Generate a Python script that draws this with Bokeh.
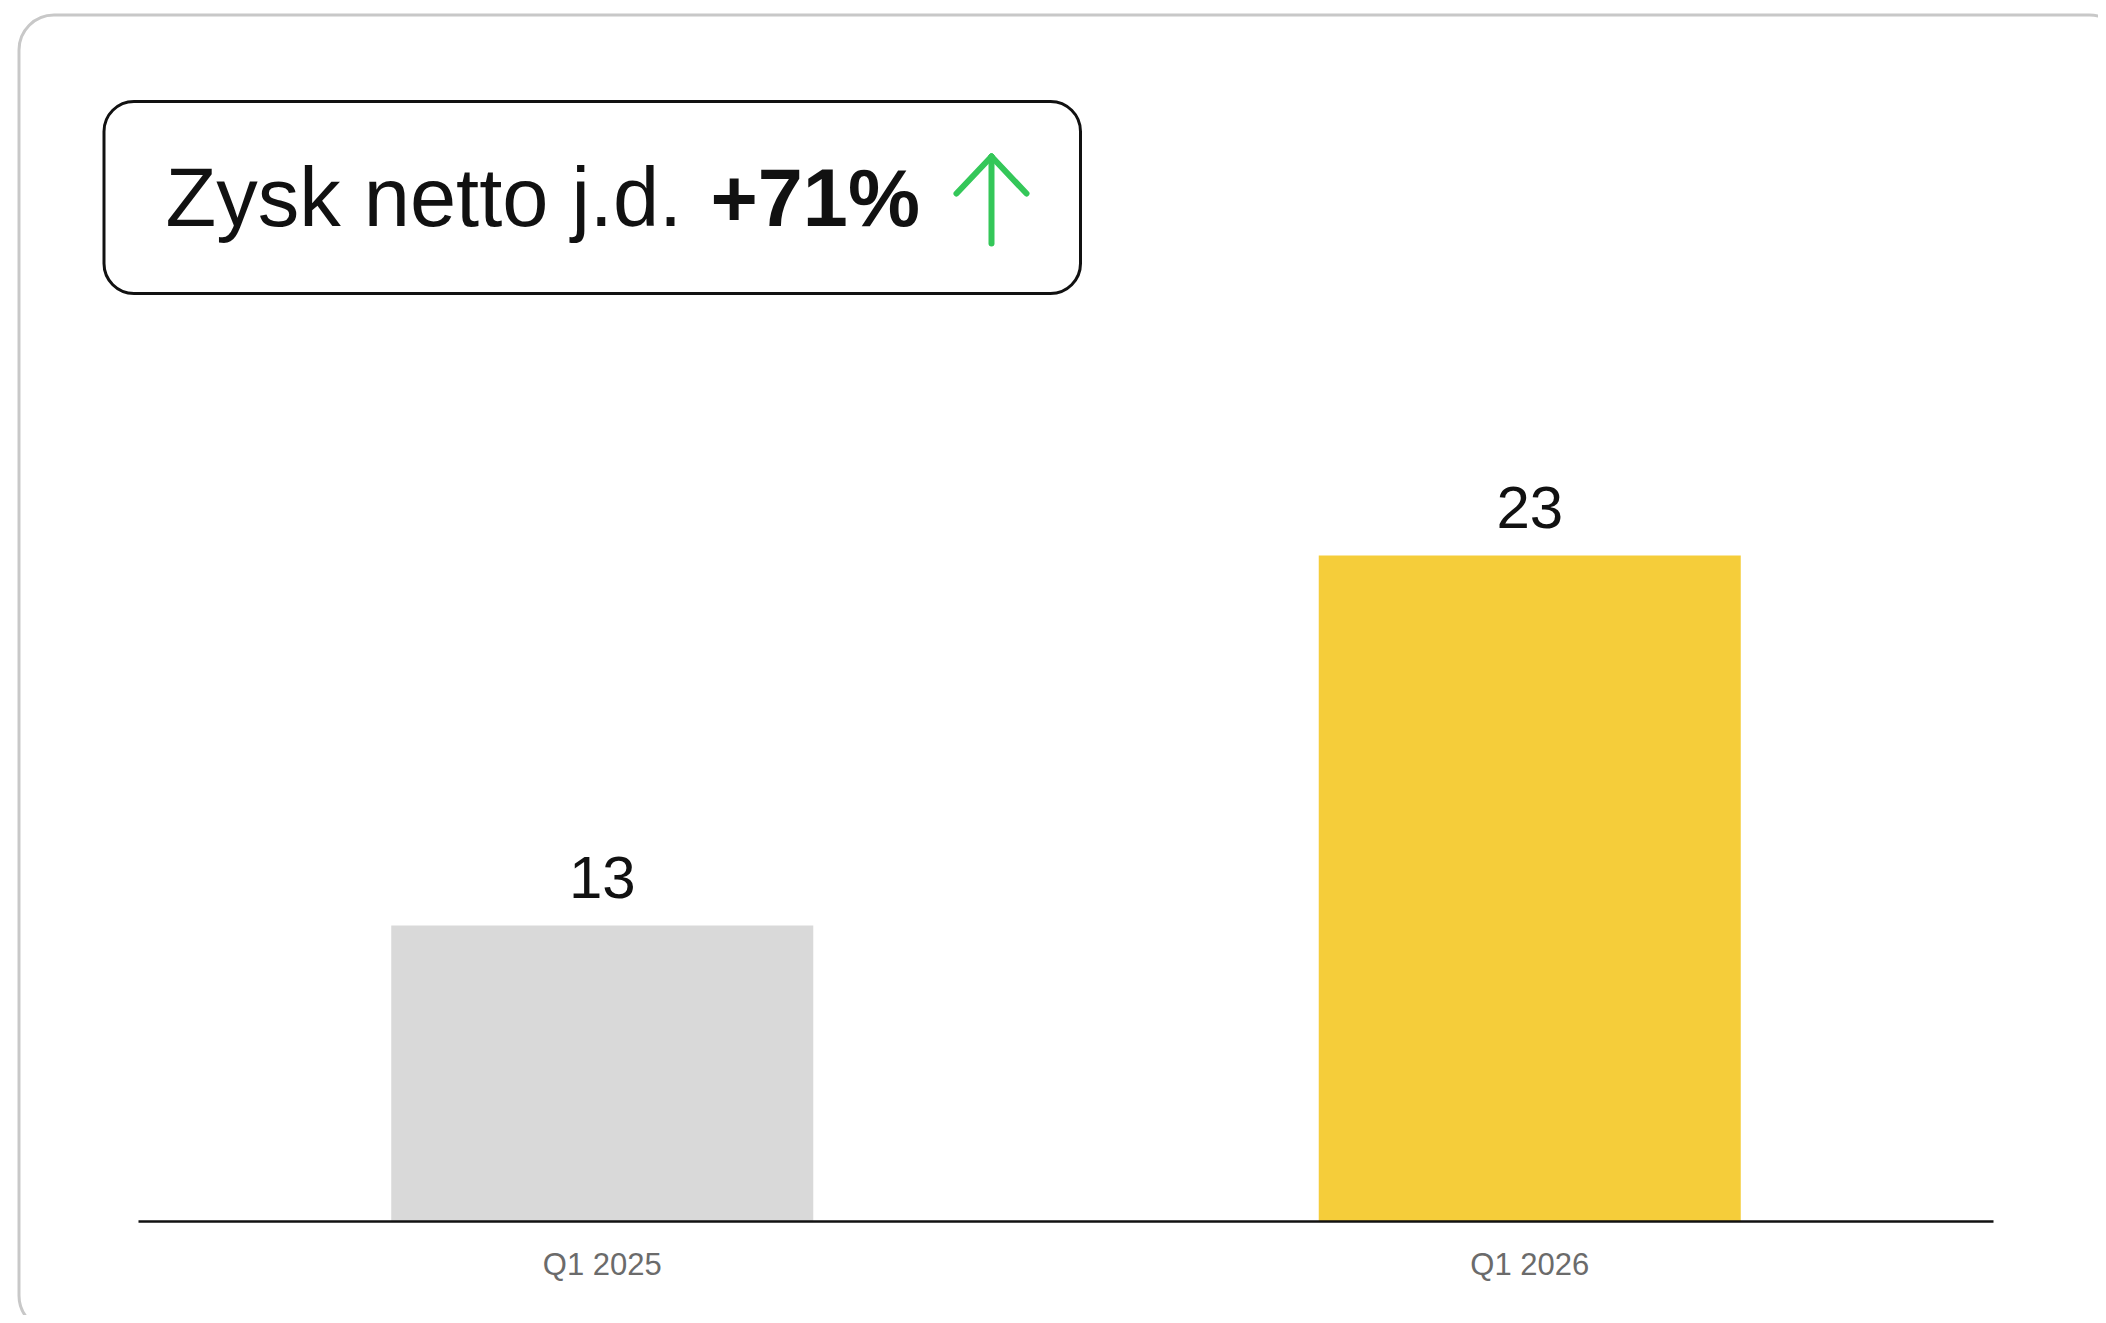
from bokeh.plotting import figure
from bokeh.models import Range1d, BoxAnnotation, Label, Arrow, ColumnDataSource, FixedTicker
from bokeh.core.properties import value
from bokeh.embed import file_html
from bokeh.resources import INLINE

# ---- data ----
categories = ["Q1 2025", "Q1 2026"]
values = [13, 23]
value_labels = ["13", "23"]
bar_colors = ["#d9d9d9", "#f5cd3a"]
headline_text = "Zysk netto j.d."
change_text = "+71%"
axis_start = 5  # value axis does not start at zero in the original

FONT = "Liberation Sans"
W, H = 2098, 1315

# ---- layout constants (pixels) ----
PLOT_LEFT, PLOT_RIGHT = 138, 1993      # extent of the category zone
BASELINE = 1221                        # pixel row of the x axis line
PX_PER_UNIT = 37.0
cat_px = (PLOT_RIGHT - PLOT_LEFT) / len(categories)

xpos = [i + 0.5 for i in range(len(categories))]
src = ColumnDataSource(dict(x=xpos, val=values, label=value_labels, color=bar_colors))

x_range = Range1d(-PLOT_LEFT / cat_px, (W - PLOT_LEFT) / cat_px)
y_range = Range1d(axis_start - (H - BASELINE) / PX_PER_UNIT, axis_start + BASELINE / PX_PER_UNIT)

p = figure(
    width=W, height=H, x_range=x_range, y_range=y_range,
    output_backend="svg", toolbar_location=None,
    y_axis_location=None,
    min_border=0, min_border_left=0, min_border_right=0,
    min_border_top=0, min_border_bottom=0,
)
p.background_fill_color = "white"
p.border_fill_color = "white"
p.outline_line_color = None
p.xgrid.visible = False
p.ygrid.visible = False

# card background
card = BoxAnnotation(left=18.5, right=2124, top=14.5, bottom=1330,
                     left_units="canvas", right_units="canvas",
                     top_units="canvas", bottom_units="canvas",
                     fill_color="white", fill_alpha=1.0,
                     line_color="#c8c8c8", line_alpha=1.0, line_width=3, border_radius=35,
                     level="underlay")
p.add_layout(card)

# bars
p.vbar(x="x", top="val", bottom=axis_start, width=0.455, color="color", line_color=None, source=src)
p.text(x="x", y="val", text="label", source=src, text_align="center",
       text_baseline="alphabetic", y_offset=-48, text_font_size="60px",
       text_font=value(FONT), text_color="#111111")

# x axis (drawn at the value-axis start, inside the card)
ax = p.xaxis[0]
ax.fixed_location = axis_start
ax.bounds = (0, len(categories))
ax.ticker = FixedTicker(ticks=xpos)
ax.major_label_overrides = dict(zip(xpos, categories))
ax.axis_line_color = "#111111"
ax.axis_line_width = 2.5
ax.major_tick_line_color = None
ax.minor_tick_line_color = None
ax.major_tick_out = 0
ax.major_tick_in = 0
ax.major_label_standoff = 25
ax.major_label_text_font_size = "31px"
ax.major_label_text_color = "#6b6b6b"
ax.major_label_text_font = FONT

# headline box
hbox = BoxAnnotation(left=103.5, right=1080, top=101, bottom=293,
                     left_units="canvas", right_units="canvas",
                     top_units="canvas", bottom_units="canvas",
                     fill_alpha=0, line_color="#111111", line_alpha=1.0, line_width=3,
                     border_radius=30)
p.add_layout(hbox)

p.add_layout(Label(x=165, y=196.5, x_units="canvas", y_units="canvas",
                   text=headline_text, text_font=FONT, text_font_size="83px",
                   text_baseline="alphabetic", text_align="left", text_color="#111111"))
p.add_layout(Label(x=710, y=197.5, x_units="canvas", y_units="canvas",
                   text=change_text, text_font=FONT, text_font_size="81px",
                   text_font_style="bold",
                   text_baseline="alphabetic", text_align="left", text_color="#111111"))

# green up arrow
green = "#34c759"
for (x0, y0, x1, y1) in [(991, 243, 991, 156), (956, 193, 991, 156), (1026, 193, 991, 156)]:
    p.add_layout(Arrow(x_start=x0, y_start=y0, x_end=x1, y_end=y1,
                       start_units="canvas", end_units="canvas",
                       start=None, end=None,
                       line_color=green, line_width=6, line_cap="round"))

open("out.html", "w").write(file_html(p, INLINE))
